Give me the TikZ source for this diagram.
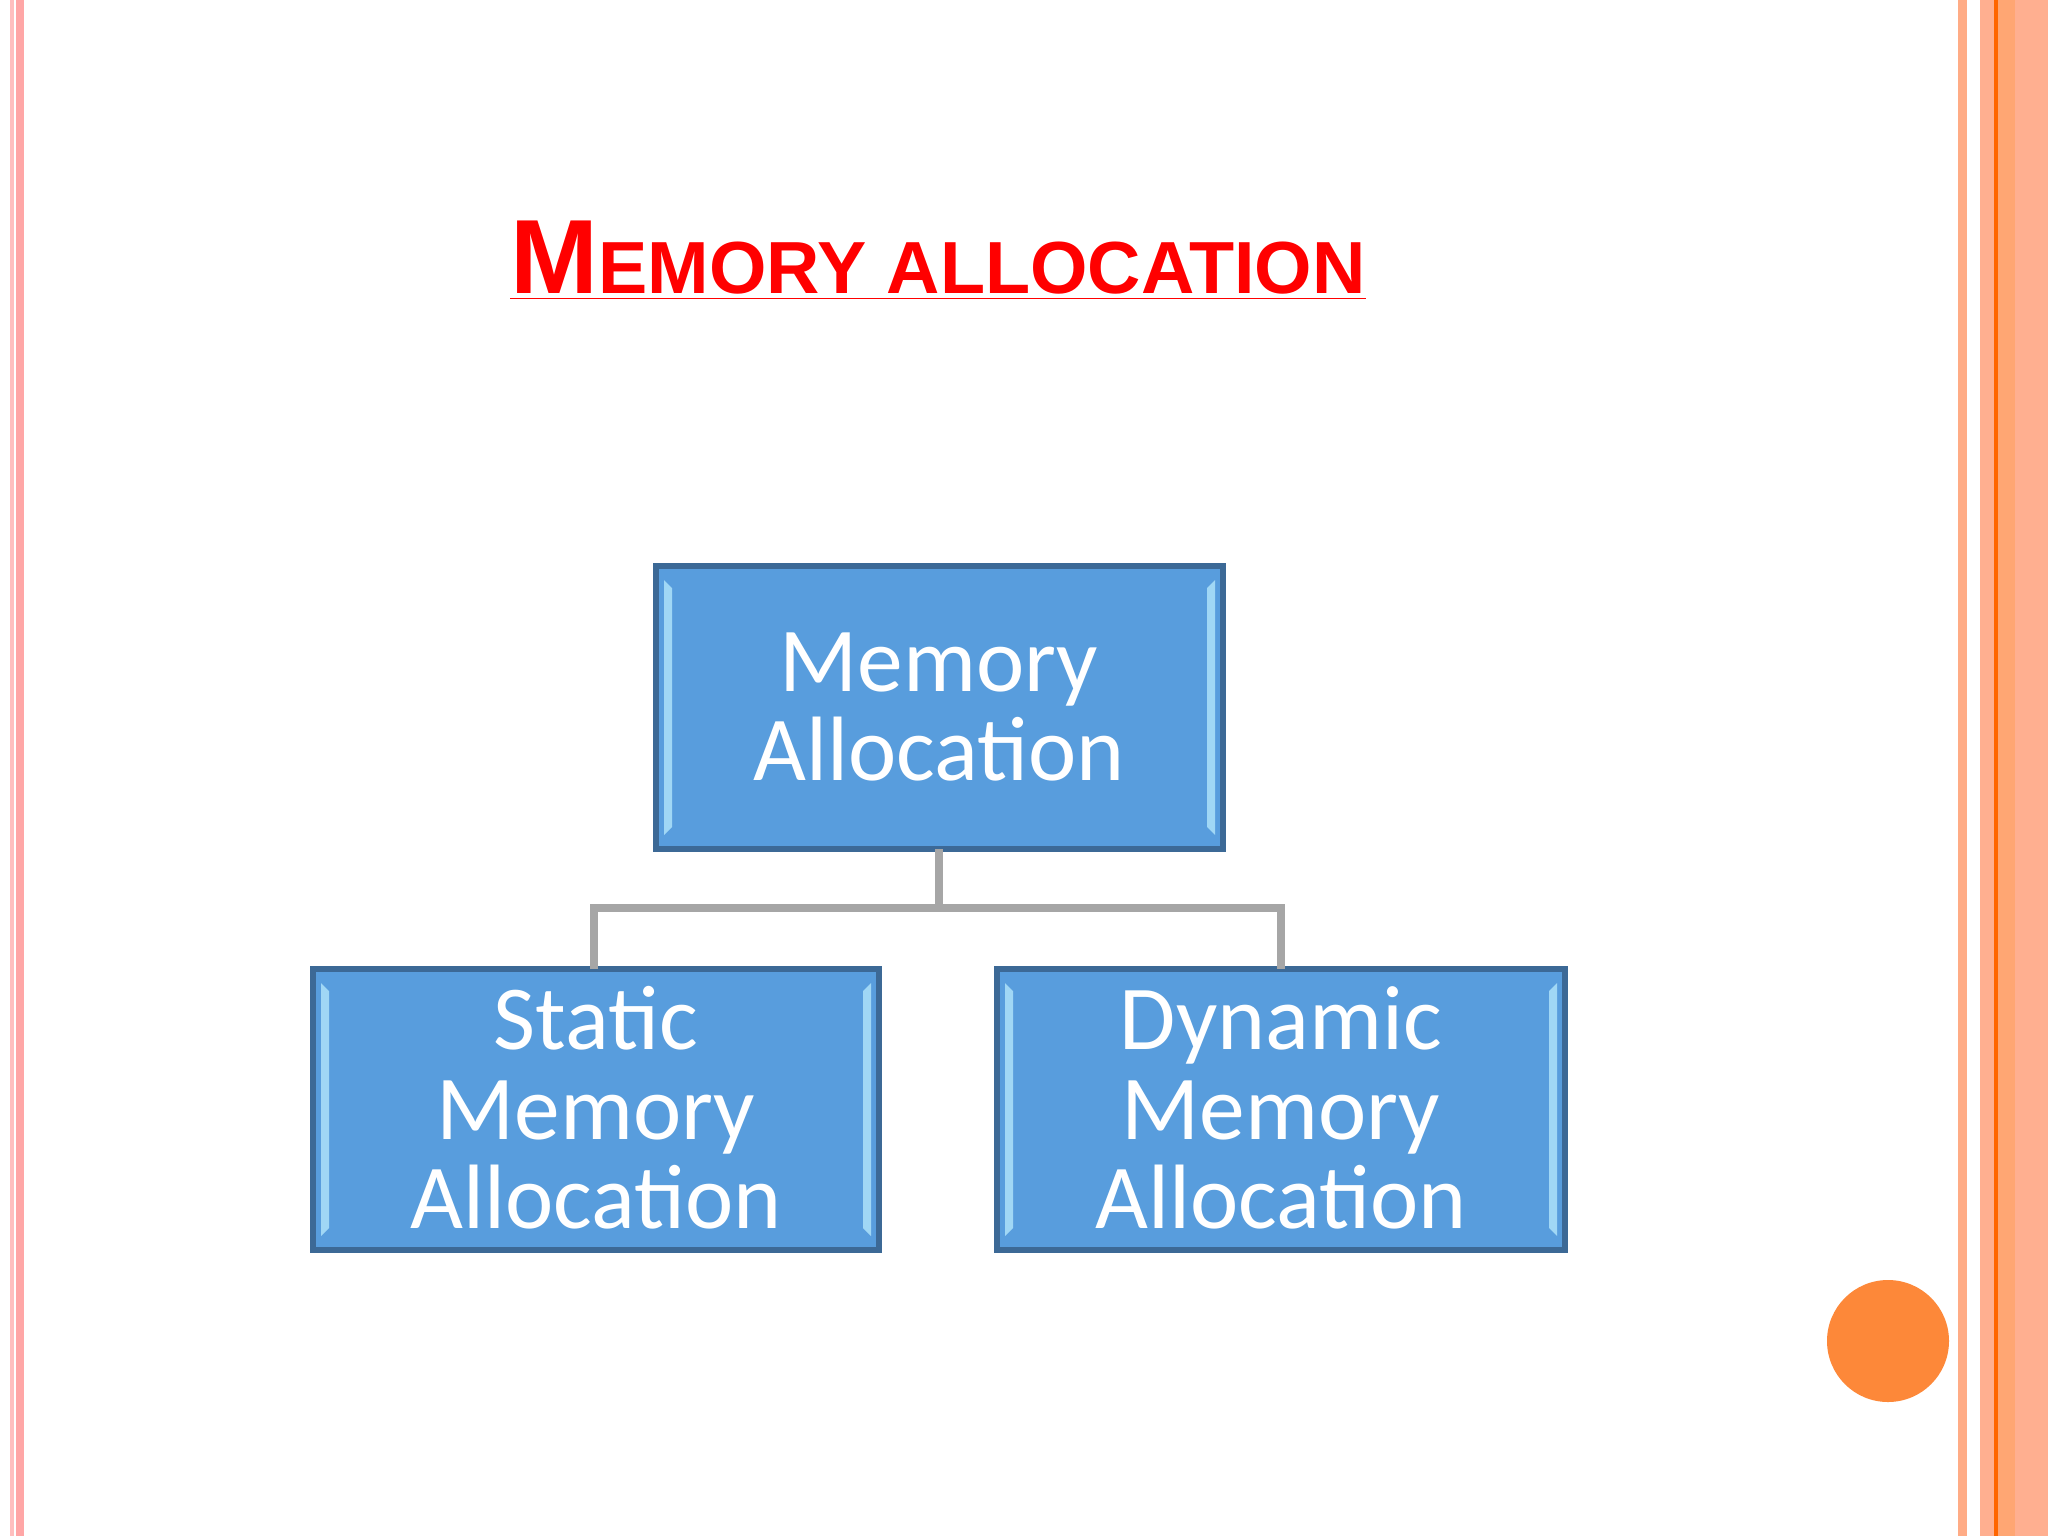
\documentclass[tikz,border=0pt]{standalone}
\usepackage{fontspec}
\setmainfont{Liberation Sans}
\newfontfamily\boxfont{Carlito}
\begin{document}
\begin{tikzpicture}[x=0.01cm,y=-0.01cm,
  box/.style={draw=none,minimum width=#1,inner sep=0pt,text=white,font=\boxfont\fontsize{26}{25.5}\selectfont,align=center},
  conn/.style={draw=gray!70,line width=2.5pt}]
\useasboundingbox (0,0) rectangle (2048,1536);
\fill[white] (0,0) rectangle (2048,1536);
% borders
\fill[red!25!white] (10,0) rectangle (14,1536);
\fill[red!35!white] (16,0) rectangle (24,1536);
\fill[orange!30!pink] (1958,0) rectangle (1967,1536);
\fill[orange!25!pink] (1980,0) rectangle (2048,1536);
\fill[orange!40!pink] (1998,0) rectangle (2015,1536);
\draw[orange!80!red,line width=1pt] (1996,0) -- (1996,1536);
% title
\node (title) at (938,261) {\color{red}\bfseries\underbar{\fontsize{30}{30}\selectfont M\fontsize{21}{21}\selectfont EMORY ALLOCATION}};
% boxes
\newcommand\bevbox[5]{%
 \shade[top color=blue!30!cyan!60!black!0!, bottom color=blue!30!cyan!60!black!0!] (#1,#2) rectangle (#3,#4);
 \fill[color={rgb,255:red,88;green,157;blue,221}] (#1,#2) rectangle (#3,#4);
 \fill[color={rgb,255:red,160;green,215;blue,245}] (#1+8,#2+14) -- (#1+16,#2+22) -- (#1+16,#4-22) -- (#1+8,#4-14) -- cycle;
 \fill[color={rgb,255:red,160;green,215;blue,245}] (#3-8,#2+14) -- (#3-16,#2+22) -- (#3-16,#4-22) -- (#3-8,#4-14) -- cycle;
 \draw[color={rgb,255:red,60;green,105;blue,150},line width=1.5pt] (#1,#2) rectangle (#3,#4);
}
\bevbox{656}{566}{1223}{849}{}
\bevbox{313}{969}{879}{1250}{}
\bevbox{997}{969}{1565}{1250}{}
\node[box=560] (top) at (939,707) {Memory\\Allocation};
\node[box=560] (left) at (596,1108) {Static\\Memory\\Allocation};
\node[box=560] (right) at (1281,1108) {Dynamic\\Memory\\Allocation};
\coordinate (tb) at (939,849);
\coordinate (mid) at (939,908);
\coordinate (lt) at (594,969);
\coordinate (rt) at (1281,969);
\draw[conn] (tb) -- (mid);
\draw[conn] (lt) |- (mid) -| (rt);
% orange circle
\fill[color={rgb,255:red,253;green,136;blue,57}] (1888,1341) circle (61);
\end{tikzpicture}
\end{document}
